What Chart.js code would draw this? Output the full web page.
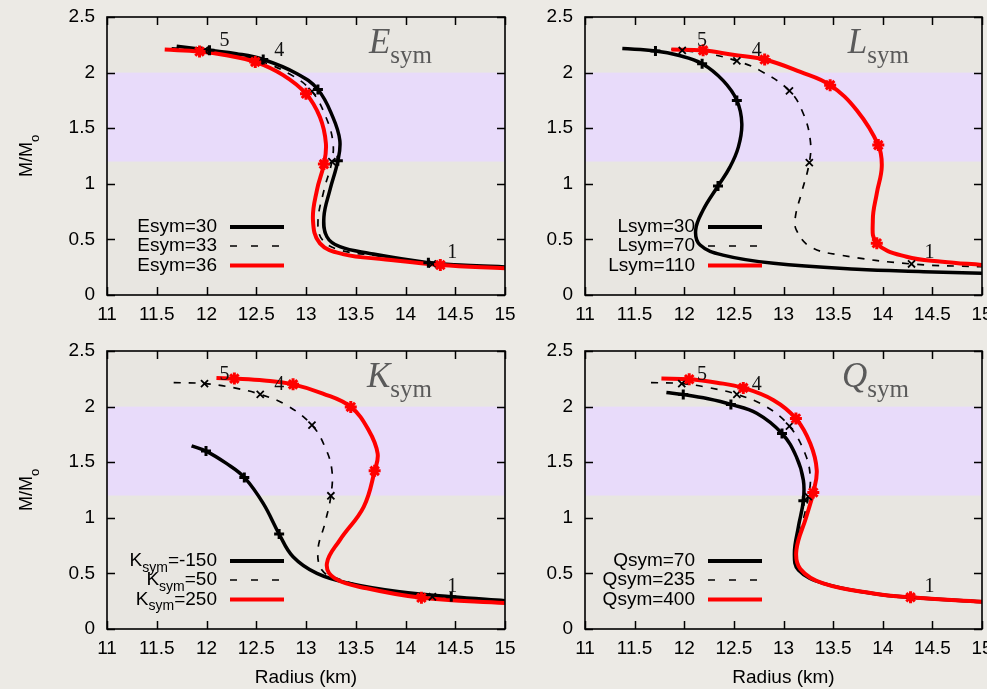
<!DOCTYPE html>
<html lang="en">
<head>
<meta charset="UTF-8">
<title>Neutron star mass-radius curves</title>
<script src="https://cdn.jsdelivr.net/npm/chart.js@4"></script>
<style>
  html, body { margin: 0; padding: 0; overflow: hidden; }
  body { width: 987px; height: 689px; background: #eceae5; position: relative; }
  canvas { position: absolute; }
</style>
</head>
<body>
<canvas id="panelE"></canvas>
<canvas id="panelL"></canvas>
<canvas id="panelK"></canvas>
<canvas id="panelQ"></canvas>

<script>
// ---- axes ----
const radiusTicks = [11, 11.5, 12, 12.5, 13, 13.5, 14, 14.5, 15];
const massTicks = [0, 0.5, 1, 1.5, 2, 2.5];
const massBand = [1.2, 2.0];   // shaded mass range

// density labels placed next to the marked points
const stepLabels = ['5', '4', '1'];
const stepLabelR = [12.18, 12.73, 14.47];
const stepLabelM = [2.29, 2.20, 0.38];

// ---- Esym panel: [radius km, mass Msun] ----
const esym30 = [[11.70,2.237],[12.03,2.20],[12.30,2.17],[12.57,2.118],[12.91,1.99],[13.12,1.848],[13.27,1.60],[13.34,1.39],[13.32,1.207],[13.24,0.943],[13.18,0.703],[13.21,0.524],[13.34,0.434],[13.64,0.374],[14.23,0.29],[14.6,0.268],[15,0.252]];
const esym30Marks = [[12.03,2.20],[12.57,2.118],[13.12,1.848],[13.32,1.207],[14.23,0.29]];
const esym33 = [[11.65,2.222],[11.98,2.20],[12.26,2.165],[12.53,2.107],[12.84,1.985],[13.06,1.83],[13.20,1.60],[13.27,1.38],[13.26,1.20],[13.18,0.94],[13.12,0.65],[13.17,0.49],[13.36,0.40],[13.7,0.355],[14.27,0.28],[15,0.247]];
const esym33Marks = [[11.98,2.20],[12.53,2.107],[13.06,1.83],[13.26,1.20],[14.27,0.28]];
const esym36 = [[11.58,2.207],[11.93,2.19],[12.20,2.156],[12.49,2.096],[12.77,1.977],[13.00,1.81],[13.14,1.60],[13.20,1.363],[13.18,1.177],[13.11,0.943],[13.07,0.674],[13.14,0.464],[13.37,0.368],[13.8,0.32],[14.35,0.27],[15,0.24]];
const esym36Marks = [[11.93,2.19],[12.49,2.096],[13.00,1.81],[13.18,1.177],[14.35,0.27]];

// ---- Lsym panel ----
const lsym30 = [[11.376,2.216],[11.71,2.195],[11.94,2.156],[12.18,2.08],[12.39,1.93],[12.53,1.75],[12.58,1.54],[12.545,1.33],[12.46,1.15],[12.34,0.98],[12.19,0.764],[12.115,0.584],[12.16,0.449],[12.39,0.359],[12.90,0.285],[13.74,0.231],[14.41,0.21],[15,0.195]];
const lsym30Marks = [[11.71,2.195],[12.18,2.08],[12.53,1.75],[12.34,0.98]];
const lsym70 = [[11.87,2.21],[11.98,2.20],[12.27,2.165],[12.53,2.105],[12.76,2.02],[13.06,1.836],[13.20,1.63],[13.27,1.39],[13.26,1.19],[13.18,0.914],[13.12,0.704],[13.13,0.584],[13.27,0.434],[13.57,0.359],[14.29,0.279],[15,0.254]];
const lsym70Marks = [[11.98,2.20],[12.53,2.105],[13.06,1.836],[13.26,1.19],[14.29,0.279]];
const lsym110 = [[11.87,2.207],[12.19,2.20],[12.49,2.16],[12.81,2.118],[13.17,2.006],[13.47,1.887],[13.74,1.66],[13.955,1.348],[13.99,1.153],[13.94,0.914],[13.90,0.674],[13.94,0.465],[14.24,0.344],[14.6,0.30],[15,0.27]];
const lsym110Marks = [[12.19,2.20],[12.81,2.118],[13.47,1.887],[13.955,1.348],[13.94,0.465]];

// ---- Ksym panel ----
const ksymM150 = [[11.85,1.647],[11.995,1.60],[12.20,1.489],[12.38,1.363],[12.57,1.129],[12.73,0.854],[12.87,0.65],[13.11,0.50],[13.44,0.41],[13.94,0.335],[14.46,0.29],[15,0.255]];
const ksymM150Marks = [[11.995,1.60],[12.38,1.363],[12.73,0.854],[14.46,0.29]];
const ksym50 = [[11.67,2.216],[11.98,2.207],[12.27,2.17],[12.54,2.11],[12.81,2.01],[13.06,1.833],[13.19,1.638],[13.26,1.43],[13.25,1.198],[13.19,0.95],[13.12,0.71],[13.16,0.53],[13.31,0.455],[13.7,0.36],[14.27,0.29],[15,0.25]];
const ksym50Marks = [[11.98,2.207],[12.54,2.11],[13.06,1.833],[13.25,1.198],[14.27,0.29]];
const ksym250 = [[12.10,2.258],[12.28,2.252],[12.58,2.235],[12.87,2.20],[13.17,2.117],[13.45,1.997],[13.63,1.788],[13.72,1.578],[13.69,1.422],[13.58,1.099],[13.34,0.80],[13.21,0.59],[13.29,0.455],[13.61,0.366],[14.16,0.281],[15,0.234]];
const ksym250Marks = [[12.28,2.252],[12.87,2.20],[13.45,1.997],[13.69,1.422],[14.16,0.281]];

// ---- Qsym panel ----
const qsym70 = [[11.82,2.127],[11.99,2.108],[12.24,2.07],[12.47,2.02],[12.73,1.94],[12.985,1.758],[13.13,1.548],[13.20,1.339],[13.20,1.153],[13.15,0.919],[13.11,0.68],[13.15,0.53],[13.40,0.41],[13.905,0.32],[14.28,0.285],[15,0.245]];
const qsym70Marks = [[11.99,2.108],[12.47,2.02],[12.985,1.758],[13.20,1.153],[14.28,0.285]];
const qsym235 = [[11.665,2.216],[11.975,2.207],[12.25,2.17],[12.53,2.11],[12.83,1.997],[13.06,1.824],[13.217,1.578],[13.27,1.368],[13.25,1.19],[13.19,0.95],[13.12,0.70],[13.16,0.53],[13.40,0.41],[13.905,0.32],[14.28,0.285],[15,0.245]];
const qsym235Marks = [[11.975,2.207],[12.53,2.11],[13.06,1.824],[13.25,1.19],[14.28,0.285]];
const qsym400 = [[11.77,2.252],[12.05,2.246],[12.33,2.215],[12.595,2.168],[12.90,2.058],[13.125,1.893],[13.27,1.668],[13.335,1.429],[13.30,1.228],[13.23,1.009],[13.13,0.71],[13.17,0.54],[13.40,0.41],[13.905,0.32],[14.28,0.285],[15,0.245]];
const qsym400Marks = [[12.05,2.246],[12.595,2.168],[13.125,1.893],[13.30,1.228],[14.28,0.285]];

// legend texts, _{..} marks a subscript
const esymLabels = ['Esym=30', 'Esym=33', 'Esym=36'];
const lsymLabels = ['Lsym=30', 'Lsym=70', 'Lsym=110'];
const ksymLabels = ['K_{sym}=-150', 'K_{sym}=50', 'K_{sym}=250'];
const qsymLabels = ['Qsym=70', 'Qsym=235', 'Qsym=400'];

const sans = '"Liberation Sans", Arimo, Arial, sans-serif';
const serif = '"Liberation Serif", "Times New Roman", serif';

const styles = {
  solid:  { color: '#000000', width: 3.5, dash: [],     mark: 'cross',    r: 5,   mw: 3,   lineOrder: 4, markOrder: 2 },
  dashed: { color: '#000000', width: 1.7, dash: [7, 8], mark: 'crossRot', r: 5,   mw: 1.8, lineOrder: 5, markOrder: 1 },
  red:    { color: '#ff0000', width: 4,   dash: [],     mark: 'star',     r: 6,   mw: 3,   lineOrder: 3, markOrder: 0 }
};
const kinds = ['solid', 'dashed', 'red'];

function pts(arr) { return arr.map(([x, y]) => ({ x, y })); }

function richParts(str) {
  const parts = [];
  const re = /_\{([^}]*)\}/g;
  let last = 0, m;
  while ((m = re.exec(str))) {
    if (m.index > last) parts.push({ t: str.slice(last, m.index), sub: false });
    parts.push({ t: m[1], sub: true });
    last = re.lastIndex;
  }
  if (last < str.length) parts.push({ t: str.slice(last), sub: false });
  return parts;
}

// background, band, frame, inner ticks, labels, legend and panel title
const decor = {
  id: 'decor',
  beforeDatasetsDraw(chart) {
    const { ctx, chartArea: a, scales: { y } } = chart;
    ctx.save();
    ctx.fillStyle = '#e8e6e1';
    ctx.fillRect(a.left, a.top, a.width, a.height);
    const yt = y.getPixelForValue(massBand[1]);
    const yb = y.getPixelForValue(massBand[0]);
    ctx.fillStyle = '#e8dbfa';
    ctx.fillRect(a.left, yt, a.width, yb - yt);
    ctx.restore();
  },
  afterDatasetsDraw(chart, args, o) {
    const { ctx, chartArea: a, scales: { x, y } } = chart;
    ctx.save();

    // inner tick marks on all four sides
    ctx.strokeStyle = '#000';
    ctx.lineWidth = 1.5;
    ctx.beginPath();
    radiusTicks.forEach(v => {
      const px = Math.round(x.getPixelForValue(v)) + 0.5;
      ctx.moveTo(px, a.bottom); ctx.lineTo(px, a.bottom - 8);
      ctx.moveTo(px, a.top); ctx.lineTo(px, a.top + 8);
    });
    massTicks.forEach(v => {
      const py = Math.round(y.getPixelForValue(v)) + 0.5;
      ctx.moveTo(a.left, py); ctx.lineTo(a.left + 8, py);
      ctx.moveTo(a.right, py); ctx.lineTo(a.right - 8, py);
    });
    ctx.stroke();
    ctx.lineWidth = 1.6;
    ctx.strokeRect(a.left, a.top, a.width, a.height);

    // density step labels
    ctx.fillStyle = '#111';
    ctx.font = '20px ' + serif;
    ctx.textAlign = 'center';
    ctx.textBaseline = 'middle';
    stepLabels.forEach((t, i) => {
      ctx.fillText(t, x.getPixelForValue(stepLabelR[i]), y.getPixelForValue(stepLabelM[i]));
    });

    // legend, text right aligned with the line sample on its right
    const rows = [68, 49, 29.5];
    o.labels.forEach((lab, i) => {
      const cy = a.bottom - rows[i];
      const parts = richParts(lab);
      let w = 0;
      parts.forEach(p => {
        ctx.font = (p.sub ? '14px ' : '19px ') + sans;
        p.w = ctx.measureText(p.t).width;
        w += p.w;
      });
      let cx = a.left + 110 - w;
      ctx.textAlign = 'left';
      ctx.fillStyle = '#000';
      parts.forEach(p => {
        ctx.font = (p.sub ? '14px ' : '19px ') + sans;
        ctx.textBaseline = 'middle';
        ctx.fillText(p.t, cx, cy + (p.sub ? 7 : 0));
        cx += p.w;
      });
      const st = styles[kinds[i]];
      ctx.beginPath();
      ctx.strokeStyle = st.color;
      ctx.lineWidth = kinds[i] === 'dashed' ? 1.7 : 4;
      ctx.setLineDash(kinds[i] === 'dashed' ? [7, 14] : []);
      ctx.moveTo(a.left + 123, cy); ctx.lineTo(a.left + 177, cy);
      ctx.stroke();
      ctx.setLineDash([]);
    });

    // panel title: italic letter with "sym" subscript
    ctx.fillStyle = '#5a5a5a';
    ctx.textBaseline = 'alphabetic';
    ctx.font = 'italic 35px ' + serif;
    const wl = ctx.measureText(o.letter).width;
    ctx.font = '25px ' + serif;
    const ws = ctx.measureText('sym').width;
    const tx = a.right - 73 - wl - ws;
    ctx.textAlign = 'left';
    ctx.font = 'italic 35px ' + serif;
    ctx.fillText(o.letter, tx, a.top + 36);
    ctx.font = '25px ' + serif;
    ctx.fillText('sym', tx + wl, a.top + 46);

    // axis titles
    ctx.fillStyle = '#000';
    if (o.yTitle) {
      ctx.save();
      ctx.font = '18px ' + sans;
      const wm = ctx.measureText('M/M').width;
      ctx.font = '13px ' + sans;
      const wo = ctx.measureText('o').width;
      ctx.translate(32, (a.top + a.bottom) / 2);
      ctx.rotate(-Math.PI / 2);
      ctx.textAlign = 'left';
      ctx.font = '18px ' + sans;
      ctx.fillText('M/M', -(wm + wo) / 2, 0);
      ctx.font = '13px ' + sans;
      ctx.fillText('o', -(wm + wo) / 2 + wm, 6.5);
      ctx.restore();
    }
    if (o.xTitle) {
      ctx.font = '19px ' + sans;
      ctx.textAlign = 'center';
      ctx.textBaseline = 'middle';
      ctx.fillText('Radius (km)', (a.left + a.right) / 2, a.bottom + 49);
    }
    ctx.restore();
  }
};

// right-hand panels run past the page edge, so their last x label is cut off
const panels = [
  { id: 'panelE', box: [0, 0, 520, 335], pad: [17, 15], yw: 107, xh: 40, letter: 'E', labels: esymLabels, yTitle: true, xTitle: false,
    series: [[esym30, esym30Marks], [esym33, esym33Marks], [esym36, esym36Marks]] },
  { id: 'panelL', box: [490, 0, 512, 335], pad: [17, 20], yw: 95, xh: 40, letter: 'L', labels: lsymLabels, yTitle: false, xTitle: false,
    series: [[lsym30, lsym30Marks], [lsym70, lsym70Marks], [lsym110, lsym110Marks]] },
  { id: 'panelK', box: [0, 335, 520, 354], pad: [16, 15], yw: 107, xh: 60, letter: 'K', labels: ksymLabels, yTitle: true, xTitle: true,
    series: [[ksymM150, ksymM150Marks], [ksym50, ksym50Marks], [ksym250, ksym250Marks]] },
  { id: 'panelQ', box: [490, 335, 512, 354], pad: [16, 20], yw: 95, xh: 60, letter: 'Q', labels: qsymLabels, yTitle: false, xTitle: true,
    series: [[qsym70, qsym70Marks], [qsym235, qsym235Marks], [qsym400, qsym400Marks]] }
];

const tickFont = { family: sans, size: 19 };
const plainTick = v => String(v);

panels.forEach(p => {
  const cv = document.getElementById(p.id);
  cv.width = p.box[2];
  cv.height = p.box[3];
  cv.style.left = p.box[0] + 'px';
  cv.style.top = p.box[1] + 'px';

  const datasets = [];
  p.series.forEach(([curve, marks], i) => {
    const st = styles[kinds[i]];
    datasets.push({
      data: pts(curve), showLine: true, pointRadius: 0, tension: 0.4,
      borderColor: st.color, borderWidth: st.width, borderDash: st.dash,
      borderJoinStyle: 'round', fill: false, order: st.lineOrder
    });
    datasets.push({
      data: pts(marks), showLine: false, pointStyle: st.mark, pointRadius: st.r,
      pointBorderColor: st.color, pointBackgroundColor: st.color, pointBorderWidth: st.mw,
      order: st.markOrder
    });
  });

  new Chart(cv, {
    type: 'scatter',
    data: { datasets },
    options: {
      responsive: false,
      animation: false,
      devicePixelRatio: 1,
      layout: { padding: { top: p.pad[0], right: p.pad[1], left: 0, bottom: 0 } },
      plugins: {
        legend: { display: false },
        tooltip: { enabled: false },
        decor: { letter: p.letter, labels: p.labels, yTitle: p.yTitle, xTitle: p.xTitle }
      },
      scales: {
        x: {
          type: 'linear', min: 11, max: 15,
          afterBuildTicks: s => { s.ticks = radiusTicks.map(v => ({ value: v })); },
          afterFit: s => { s.height = p.xh; s.paddingLeft = 0; s.paddingRight = 0; },
          grid: { display: false, drawTicks: false },
          border: { display: false },
          ticks: { font: tickFont, color: '#000', padding: 8, maxRotation: 0, autoSkip: false, callback: plainTick }
        },
        y: {
          type: 'linear', min: 0, max: 2.5,
          afterBuildTicks: s => { s.ticks = massTicks.map(v => ({ value: v })); },
          afterFit: s => { s.width = p.yw; s.paddingTop = 0; s.paddingBottom = 0; },
          grid: { display: false, drawTicks: false },
          border: { display: false },
          ticks: { font: tickFont, color: '#000', padding: 12, autoSkip: false, callback: plainTick }
        }
      }
    },
    plugins: [decor]
  });
});
</script>
</body>
</html>
